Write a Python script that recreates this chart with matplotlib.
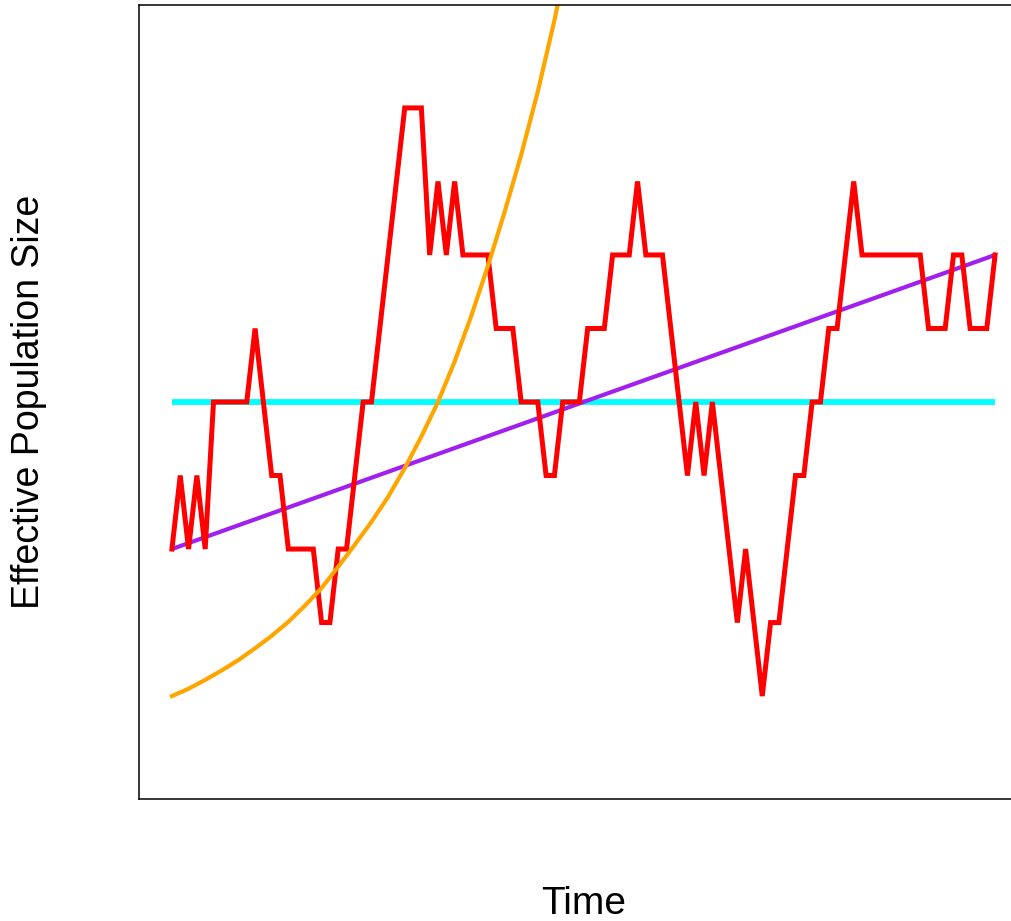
import matplotlib
matplotlib.use('Agg')
import matplotlib.pyplot as plt

plt.rcParams['font.family'] = ['Liberation Sans', 'DejaVu Sans']

# red: stochastic population size, one value per time step
time_steps = list(range(100))
ne_random = [-2, -1, -2, -1, -2, 0, 0, 0, 0, 0,
             1, 0, -1, -1, -2, -2, -2, -2, -3, -3,
             -2, -2, -1, 0, 0, 1, 2, 3, 4, 4,
             4, 2, 3, 2, 3, 2, 2, 2, 2, 1,
             1, 1, 0, 0, 0, -1, -1, 0, 0, 0,
             1, 1, 1, 2, 2, 2, 3, 2, 2, 2,
             1, 0, -1, 0, -1, 0, -1, -2, -3, -2,
             -3, -4, -3, -3, -2, -1, -1, 0, 0, 1,
             1, 2, 3, 2, 2, 2, 2, 2, 2, 2,
             2, 1, 1, 1, 2, 2, 1, 1, 1, 2]

# cyan: constant size
const_t = [0, 99]
const_ne = [0, 0]

# purple: linear growth
linear_t = [0, 99]
linear_ne = [-2, 2]

# orange: exponential growth (read every 2 steps)
exp_t = [0, 2, 4, 6, 8, 10, 12, 14, 16, 18, 20, 22, 24,
         26, 28, 30, 32, 34, 36, 38, 40, 42, 44, 46, 48]
exp_ne = [-4.00, -3.90, -3.78, -3.65, -3.51, -3.35, -3.18, -2.99, -2.77,
          -2.53, -2.24, -1.94, -1.63, -1.29, -0.90, -0.47, 0.0, 0.55,
          1.17, 1.85, 2.58, 3.36, 4.22, 5.19, 6.28]

fig = plt.figure(figsize=(10.11, 9.21), dpi=100)
ax = fig.add_axes([139 / 1011, 122 / 921, 889 / 1011, 794 / 921])

ax.plot(const_t, const_ne, color='#00FFFF', lw=4.2, solid_capstyle='butt')
ax.plot(linear_t, linear_ne, color='#A020F0', lw=3.0, solid_capstyle='butt')
ax.plot(time_steps, ne_random, color='#FF0000', lw=3.6, solid_joinstyle='miter')
ax.plot(exp_t, exp_ne, color='#FFA500', lw=3.0)

ax.set_xlim(-3.96, 102.96)
ax.set_ylim(-5.4, 5.4)
ax.set_xticks([])
ax.set_yticks([])
for s in ax.spines.values():
    s.set_linewidth(1.1)
    s.set_color('black')

fig.text(583.5 / 1011, 7 / 921, 'Time', ha='center', va='baseline', fontsize=28)
fig.text(29 / 1011, 1 - 402 / 921, 'Effective Population Size', ha='center',
         va='center', rotation=90, fontsize=27)

fig.savefig('out.png', dpi=100)
